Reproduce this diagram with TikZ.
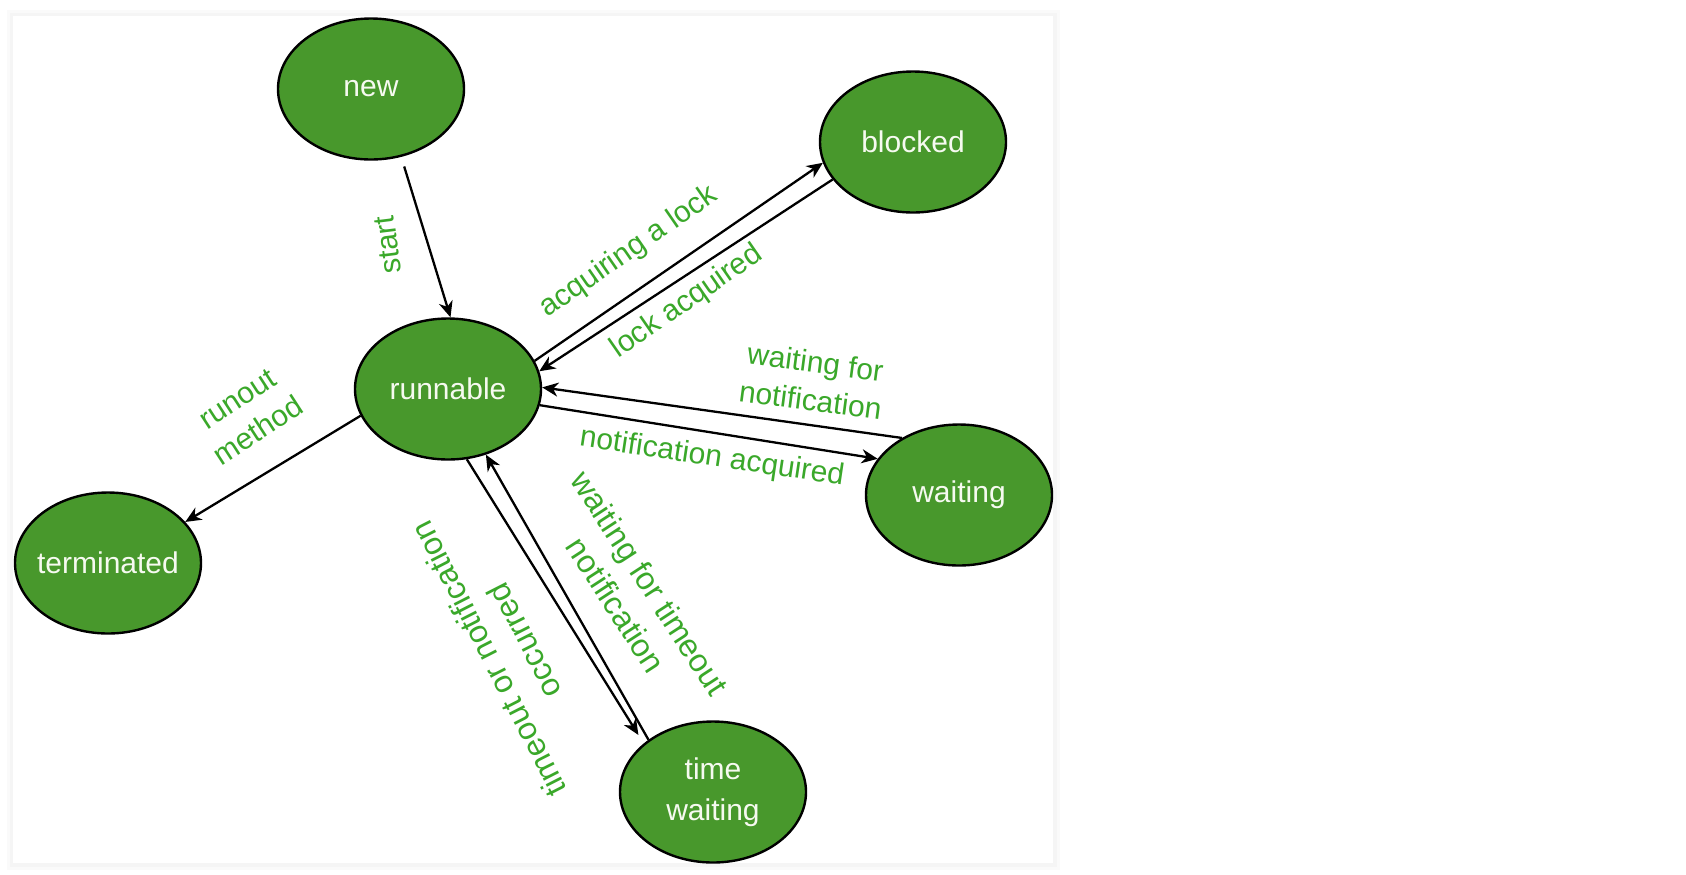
\documentclass[tikz,border=0pt]{standalone}
\usepackage{fontspec}
\setmainfont{Liberation Sans}
\usetikzlibrary{shapes.geometric,arrows.meta}
\definecolor{nodegreen}{RGB}{72,152,44}
\definecolor{labelgreen}{RGB}{58,168,42}
\definecolor{nodetext}{RGB}{246,250,240}
\begin{document}
\begin{tikzpicture}[x=0.5pt,y=-0.5pt,
  state/.style={ellipse, draw=black, line width=1.2pt, fill=nodegreen,
    minimum width=93pt, minimum height=70.5pt, inner sep=0pt,
    text=nodetext, font=\fontsize{15}{20.5}\selectfont, align=center},
  lbl/.style={text=labelgreen, font=\fontsize{15}{19}\selectfont, align=center, inner sep=0pt},
  biglbl/.style={lbl, font=\fontsize{16}{20}\selectfont},
  conn/.style={draw=black, line width=1.15pt, -{Stealth[length=8pt,width=7pt,inset=2.5pt]}}]
\useasboundingbox (0,0) rectangle (1686,874);
% panel with faint shadow
\fill[black!2] (7,10) rectangle (1060,870);
\fill[black!4] (10,13) rectangle (1057,867);
\fill[white] (13,16) rectangle (1053,863);
% states
\node[state] (new) at (371,89) {new};
\node[state] (runnable) at (448,389) {runnable};
\node[state] (blocked) at (913,142) {blocked};
\node[state] (waiting) at (959,495) {waiting};
\node[state, inner xsep=-8pt] (terminated) at (108,563) {terminated};
\node[state] (timewait) at (713,792) {time\\waiting};
% connectors
\draw[conn, shorten <=5pt] (new.-66) -- (runnable.88);
\draw[conn] (runnable.18) -- (blocked.193);
\draw[conn] (blocked.205) -- (runnable.11);
\draw[conn] (waiting.135) -- (runnable.1);
\draw[conn] (runnable.-10) -- (waiting.156);
\draw[conn, shorten >=5pt] (runnable.-75) -- (timewait.145);
\draw[conn] (timewait.141) -- (runnable.-60);
\draw[conn] (runnable.197) -- (terminated.28);
% labels
\node[lbl, rotate=97] (lstart) at (388,245) {start};
\node[lbl, rotate=34.7] (lacq) at (629,252) {acquiring a lock};
\node[lbl, rotate=34.7] (llock) at (687,302) {lock acquired};
\node[lbl, rotate=-7.5] (lwait) at (813,381) {waiting for\\notification};
\node[lbl, rotate=-8.5] (lnotif) at (712,458) {notification acquired};
\node[lbl, rotate=33] (lrun) at (248,415) {runout\\method};
\node[biglbl, rotate=-57] (ltwait) at (633,594) {waiting for timeout\\notification};
\node[biglbl, rotate=117] (ltimeout) at (506,650) {timeout or notification\\occurred};
\end{tikzpicture}
\end{document}
